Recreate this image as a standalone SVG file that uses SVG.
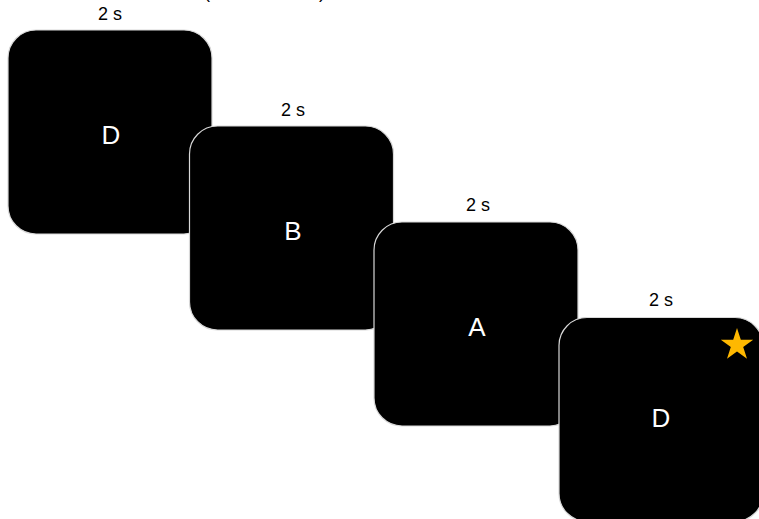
<svg xmlns="http://www.w3.org/2000/svg" width="759" height="519" viewBox="0 0 759 519">
<style>
.scr{fill:#000;stroke:#d8d8d8;stroke-width:1.2}
.lbl{font-family:"Liberation Sans",Arial,sans-serif;font-size:18px;fill:#000;text-anchor:middle}
.let{font-family:"Liberation Sans",Arial,sans-serif;font-size:26px;fill:#fff;text-anchor:middle}
</style>
<rect width="759" height="519" fill="#fff"/>
<g id="title">
<text class="lbl" x="207" y="-2">(</text>
<text class="lbl" x="322" y="-2">)</text>
</g>
<g id="screen1">
<rect class="scr" x="8" y="30" width="204" height="204" rx="28"/>
<text class="lbl" x="110" y="20">2 s</text>
<text class="let" x="111" y="144">D</text>
</g>
<g id="screen2">
<rect class="scr" x="189.5" y="126" width="204" height="204" rx="28"/>
<text class="lbl" x="293" y="116">2 s</text>
<text class="let" x="293" y="240">B</text>
</g>
<g id="screen3">
<rect class="scr" x="374" y="222" width="204" height="204" rx="28"/>
<text class="lbl" x="478" y="211">2 s</text>
<text class="let" x="477" y="336">A</text>
</g>
<g id="screen4">
<rect class="scr" x="559" y="317.5" width="204" height="204" rx="28"/>
<text class="lbl" x="661" y="306">2 s</text>
<text class="let" x="661" y="427">D</text>
<polygon fill="#FFB800" points="737,328 740.8,339.7 753.2,339.7 743.2,347 747,358.8 737,351.5 727,358.8 730.8,347 720.8,339.7 733.2,339.7"/>
</g>
<g id="connectors"></g>
</svg>
